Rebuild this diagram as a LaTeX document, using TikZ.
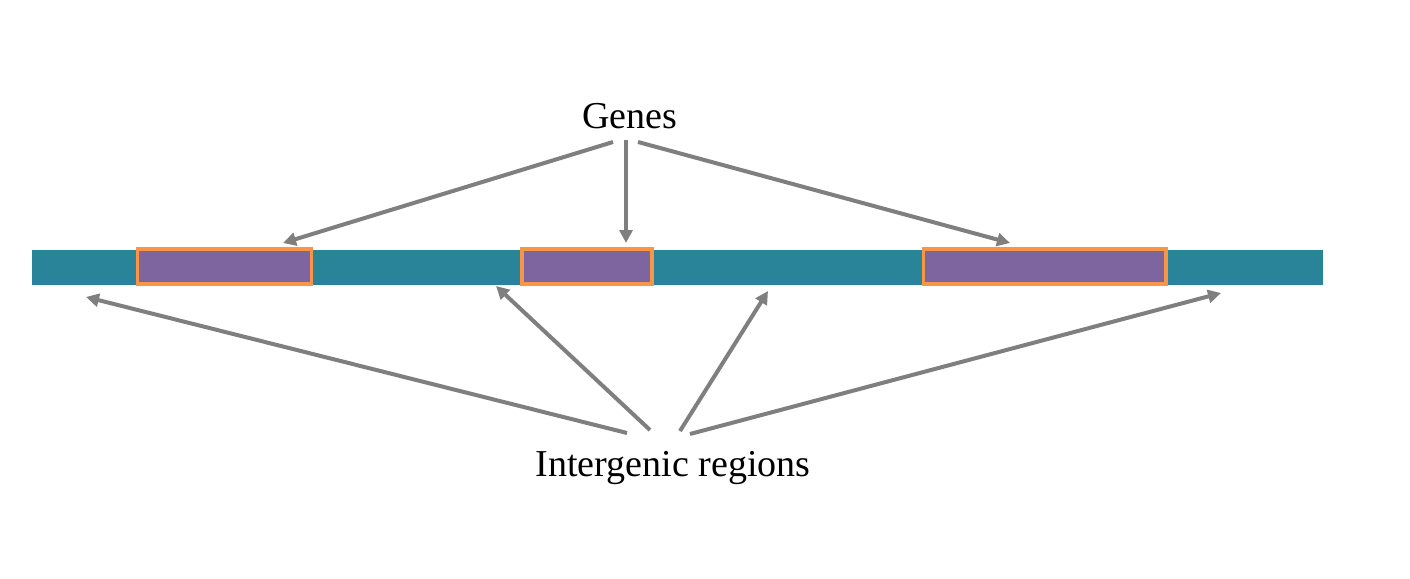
\documentclass[tikz,border=0pt]{standalone}
\usepackage{fontspec}
\setmainfont{Liberation Serif}
\usetikzlibrary{arrows.meta}
\definecolor{chrom}{HTML}{2A8499}
\definecolor{genefill}{HTML}{7F659F}
\definecolor{geneedge}{HTML}{F79646}
\definecolor{arrowgray}{HTML}{7F7F7F}
\begin{document}
\begin{tikzpicture}[x=1pt,y=-1pt,
  lbl/.style={font=\fontsize{38}{44}\selectfont, inner sep=0pt},
  genebox/.style={fill=genefill, draw=geneedge, line width=3.5pt, inner sep=0pt, minimum height=35pt},
  pointer/.style={draw=arrowgray, line width=4pt, -{Triangle[length=13pt,width=13pt]}}]
\useasboundingbox (0,0) rectangle (1410,578);
\fill[chrom] (32,250) rectangle (1323,285);
\node[genebox, minimum width=174pt] (g1) at (224.5,266.5) {};
\node[genebox, minimum width=130pt] (g2) at (586.75,266.5) {};
\node[genebox, minimum width=242.5pt] (g3) at (1044.75,266.5) {};
\node[lbl] (genes) at (630,116) {Genes};
\node[lbl] (inter) at (673,468) {Intergenic regions};
\coordinate (a1) at (283,243);
\coordinate (a2) at (626,243);
\coordinate (a3) at (1010,243);
\coordinate (b1) at (86,297);
\coordinate (b2) at (496,286);
\coordinate (b3) at (768,291);
\coordinate (b4) at (1221,293);
\draw[pointer] (613,142) -- (a1);
\draw[pointer] (626,140) -- (a2);
\draw[pointer] (638,142) -- (a3);
\draw[pointer] (627,433) -- (b1);
\draw[pointer] (650,430) -- (b2);
\draw[pointer] (680,431) -- (b3);
\draw[pointer] (690,434) -- (b4);
\end{tikzpicture}
\end{document}
